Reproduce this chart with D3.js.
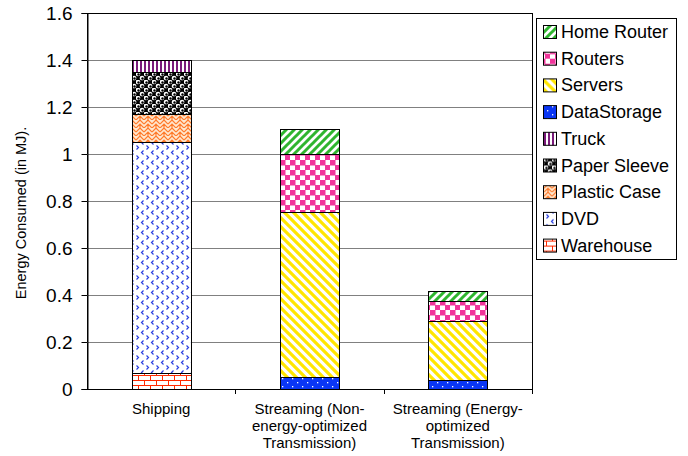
<!DOCTYPE html>
<html>
<head>
<meta charset="utf-8">
<script src="https://cdn.jsdelivr.net/npm/d3@7"></script>
<style>
  body { margin: 0; background: #fff; }
  svg { font-family: "Liberation Sans", Arial, sans-serif; }
</style>
</head>
<body>
<div id="chart"></div>
<script>
// Categories and their wrapped labels
const categories = ["Shipping", "Streaming (Non-energy-optimized Transmission)", "Streaming (Energy-optimized Transmission)"];
const categoryLines = [
  ["Shipping"],
  ["Streaming (Non-", "energy-optimized", "Transmission)"],
  ["Streaming (Energy-", "optimized", "Transmission)"]
];

// Stack order, bottom to top
const seriesNames = ["Warehouse", "DVD", "Plastic Case", "Paper Sleeve", "Truck", "DataStorage", "Servers", "Routers", "Home Router"];

// Values per series (MJ), one per category
const warehouse   = [0.07, 0, 0];
const dvd         = [0.98, 0, 0];
const plasticCase = [0.12, 0, 0];
const paperSleeve = [0.18, 0, 0];
const truck       = [0.05, 0, 0];
const dataStorage = [0, 0.05, 0.04];
const servers     = [0, 0.705, 0.25];
const routers     = [0, 0.245, 0.085];
const homeRouter  = [0, 0.105, 0.04];

const yTicks = [0, 0.2, 0.4, 0.6, 0.8, 1, 1.2, 1.4, 1.6];

const seriesValues = {
  "Warehouse": warehouse, "DVD": dvd, "Plastic Case": plasticCase,
  "Paper Sleeve": paperSleeve, "Truck": truck, "DataStorage": dataStorage,
  "Servers": servers, "Routers": routers, "Home Router": homeRouter
};

const width = 688, height = 456;
const plot = { left: 87, right: 532, top: 13, bottom: 389 };

const svg = d3.select("#chart").append("svg")
  .attr("width", width)
  .attr("height", height);

// ---- fill patterns ----
const defs = svg.append("defs");

function pattern(id, w, h, bg) {
  const p = defs.append("pattern")
    .attr("id", id)
    .attr("patternUnits", "userSpaceOnUse")
    .attr("width", w)
    .attr("height", h);
  p.append("rect").attr("width", w).attr("height", h).attr("fill", bg);
  return p;
}

// Home Router: green "/" stripes
let p = pattern("p-home", 8, 8, "#fff");
p.append("path").attr("d", "M-2,2 L2,-2 M0,8 L8,0 M6,10 L10,6")
  .attr("stroke", "#2fb52f").attr("stroke-width", 3);

// Routers: pink checkerboard
p = pattern("p-routers", 10, 10, "#fff");
p.append("rect").attr("x", 0).attr("y", 0).attr("width", 5.5).attr("height", 5.5).attr("fill", "#f0359b");
p.append("rect").attr("x", 5).attr("y", 5).attr("width", 5.5).attr("height", 5.5).attr("fill", "#f0359b");

// Servers: yellow "\" stripes
p = pattern("p-servers", 9, 9, "#fff");
p.append("path").attr("d", "M-2,-2 L11,11 M-2,7 L2,11 M7,-2 L11,2")
  .attr("stroke", "#ffe600").attr("stroke-width", 3.2);

// DataStorage: blue with white dots
p = pattern("p-storage", 10, 8, "#0a36f5");
p.append("rect").attr("x", 2).attr("y", 2).attr("width", 1.3).attr("height", 1.3).attr("fill", "#fff");
p.append("rect").attr("x", 7).attr("y", 6).attr("width", 1.3).attr("height", 1.3).attr("fill", "#fff");

// Truck: purple vertical stripes
p = pattern("p-truck", 4, 4, "#fff");
p.append("rect").attr("x", 0).attr("width", 2).attr("height", 4).attr("fill", "#7a1a7a");

// Paper Sleeve: black with white bubbles
p = pattern("p-paper", 8, 8, "#000");
[[2, 2], [6, 6]].forEach(([cx, cy]) => {
  p.append("circle").attr("cx", cx).attr("cy", cy).attr("r", 2.3).attr("fill", "#fff");
  p.append("circle").attr("cx", cx + 0.5).attr("cy", cy + 0.5).attr("r", 1.2).attr("fill", "#000");
});
[[6, -2], [-2, 6], [6, 14], [14, 6], [-2, -2], [10, 10]].forEach(([cx, cy]) => {
  p.append("circle").attr("cx", cx).attr("cy", cy).attr("r", 2.3).attr("fill", "#fff");
});

// Plastic Case: orange weave on peach
p = pattern("p-plastic", 8, 8, "#ffe8d0");
p.append("path").attr("d", "M0,4 L4,0 L8,4 M0,8 L4,4 L8,8 M4,4 L4,8")
  .attr("stroke", "#ff7a2a").attr("stroke-width", 1.2).attr("fill", "none");

// DVD: white with blue chevrons
p = pattern("p-dvd", 10, 10, "#fff");
p.append("path").attr("d", "M3.5,0.5 L1.5,2.5 L3.5,4.5 M6.5,5.5 L8.5,7.5 L6.5,9.5")
  .attr("stroke", "#2a3fe0").attr("stroke-width", 1.2).attr("fill", "none");

// Warehouse: red bricks
p = pattern("p-warehouse", 12, 10, "#fff");
p.append("path").attr("d", "M0,0.5 H12 M0,5.5 H12 M0.5,0 V5 M6.5,5 V10")
  .attr("stroke", "#ff2a00").attr("stroke-width", 1).attr("fill", "none");

const fills = {
  "Warehouse": "url(#p-warehouse)", "DVD": "url(#p-dvd)", "Plastic Case": "url(#p-plastic)",
  "Paper Sleeve": "url(#p-paper)", "Truck": "url(#p-truck)", "DataStorage": "url(#p-storage)",
  "Servers": "url(#p-servers)", "Routers": "url(#p-routers)", "Home Router": "url(#p-home)"
};

// ---- scales ----
const x = d3.scaleBand()
  .domain(categories)
  .range([plot.left, plot.right])
  .paddingInner(0.6)
  .paddingOuter(0.3);

const y = d3.scaleLinear()
  .domain([0, 1.6])
  .range([plot.bottom, plot.top]);

// Plot area frame
svg.append("rect")
  .attr("x", plot.left).attr("y", plot.top)
  .attr("width", plot.right - plot.left).attr("height", plot.bottom - plot.top)
  .attr("fill", "#fff").attr("stroke", "#000").attr("shape-rendering", "crispEdges");

// Gridlines
svg.append("g")
  .selectAll("line")
  .data(yTicks.filter(d => d > 0))
  .join("line")
  .attr("x1", plot.left).attr("x2", plot.right)
  .attr("y1", d => Math.round(y(d)) + 0.5).attr("y2", d => Math.round(y(d)) + 0.5)
  .attr("stroke", d => d === 1.6 ? "#000" : "#808080");

// ---- stacked bars ----
const table = categories.map((c, i) => {
  const row = { category: c };
  seriesNames.forEach(s => { row[s] = seriesValues[s][i]; });
  return row;
});
const stacked = d3.stack().keys(seriesNames)(table);

svg.append("g")
  .selectAll("g")
  .data(stacked)
  .join("g")
  .attr("fill", d => fills[d.key])
  .selectAll("rect")
  .data(d => d.filter(s => s[1] - s[0] > 0))
  .join("rect")
  .attr("x", d => Math.round(x(d.data.category)) + 0.5)
  .attr("y", d => Math.round(y(d[1])) + 0.5)
  .attr("width", Math.round(x.bandwidth()))
  .attr("height", d => Math.round(y(d[0])) - Math.round(y(d[1])))
  .attr("stroke", "#000")
  .attr("stroke-width", 1);

// ---- axes ----
const yAxis = svg.append("g")
  .attr("transform", `translate(${plot.left + 0.5},0)`)
  .call(d3.axisLeft(y).tickValues(yTicks).tickFormat(d3.format("")).tickSize(6).tickPadding(9));
yAxis.select(".domain").attr("stroke", "#000");
yAxis.selectAll("text").style("font-size", "19px").attr("fill", "#000");

// x axis line with boundary ticks
const xAxis = svg.append("g").attr("shape-rendering", "crispEdges");
xAxis.append("line")
  .attr("x1", plot.left).attr("x2", plot.right)
  .attr("y1", plot.bottom + 0.5).attr("y2", plot.bottom + 0.5)
  .attr("stroke", "#000");
const step = x.step();
xAxis.selectAll("line.tick")
  .data(categories)
  .join("line")
  .attr("class", "tick")
  .attr("x1", (d, i) => Math.round(plot.left + step * (i + 1)) + 0.5)
  .attr("x2", (d, i) => Math.round(plot.left + step * (i + 1)) + 0.5)
  .attr("y1", plot.bottom).attr("y2", plot.bottom + 5)
  .attr("stroke", "#000");

// category labels
svg.append("g")
  .selectAll("text")
  .data(categories)
  .join("text")
  .attr("text-anchor", "middle")
  .attr("x", d => x(d) + x.bandwidth() / 2)
  .attr("y", 414)
  .style("font-size", "15px")
  .selectAll("tspan")
  .data((d, i) => categoryLines[i])
  .join("tspan")
  .attr("x", function() { return this.parentNode.getAttribute("x"); })
  .attr("dy", (d, i) => i === 0 ? 0 : 17)
  .text(d => d);

// y axis title
svg.append("text")
  .attr("transform", "translate(26,213) rotate(-90)")
  .attr("text-anchor", "middle")
  .style("font-size", "14.5px")
  .text("Energy Consumed (in MJ).");

// ---- legend ----
const legendOrder = seriesNames.slice().reverse();
const legend = svg.append("g");
legend.append("rect")
  .attr("x", 536.5).attr("y", 18.5)
  .attr("width", 140).attr("height", 241)
  .attr("fill", "#fff").attr("stroke", "#000");

const item = legend.selectAll("g.item")
  .data(legendOrder)
  .join("g")
  .attr("class", "item")
  .attr("transform", (d, i) => `translate(0,${32 + i * 26.7})`);

item.append("rect")
  .attr("x", 543.5).attr("y", -6.5)
  .attr("width", 13).attr("height", 13)
  .attr("fill", d => fills[d])
  .attr("stroke", "#000");

item.append("text")
  .attr("x", 561)
  .attr("y", 6)
  .style("font-size", "18px")
  .text(d => d);
</script>
</body>
</html>
